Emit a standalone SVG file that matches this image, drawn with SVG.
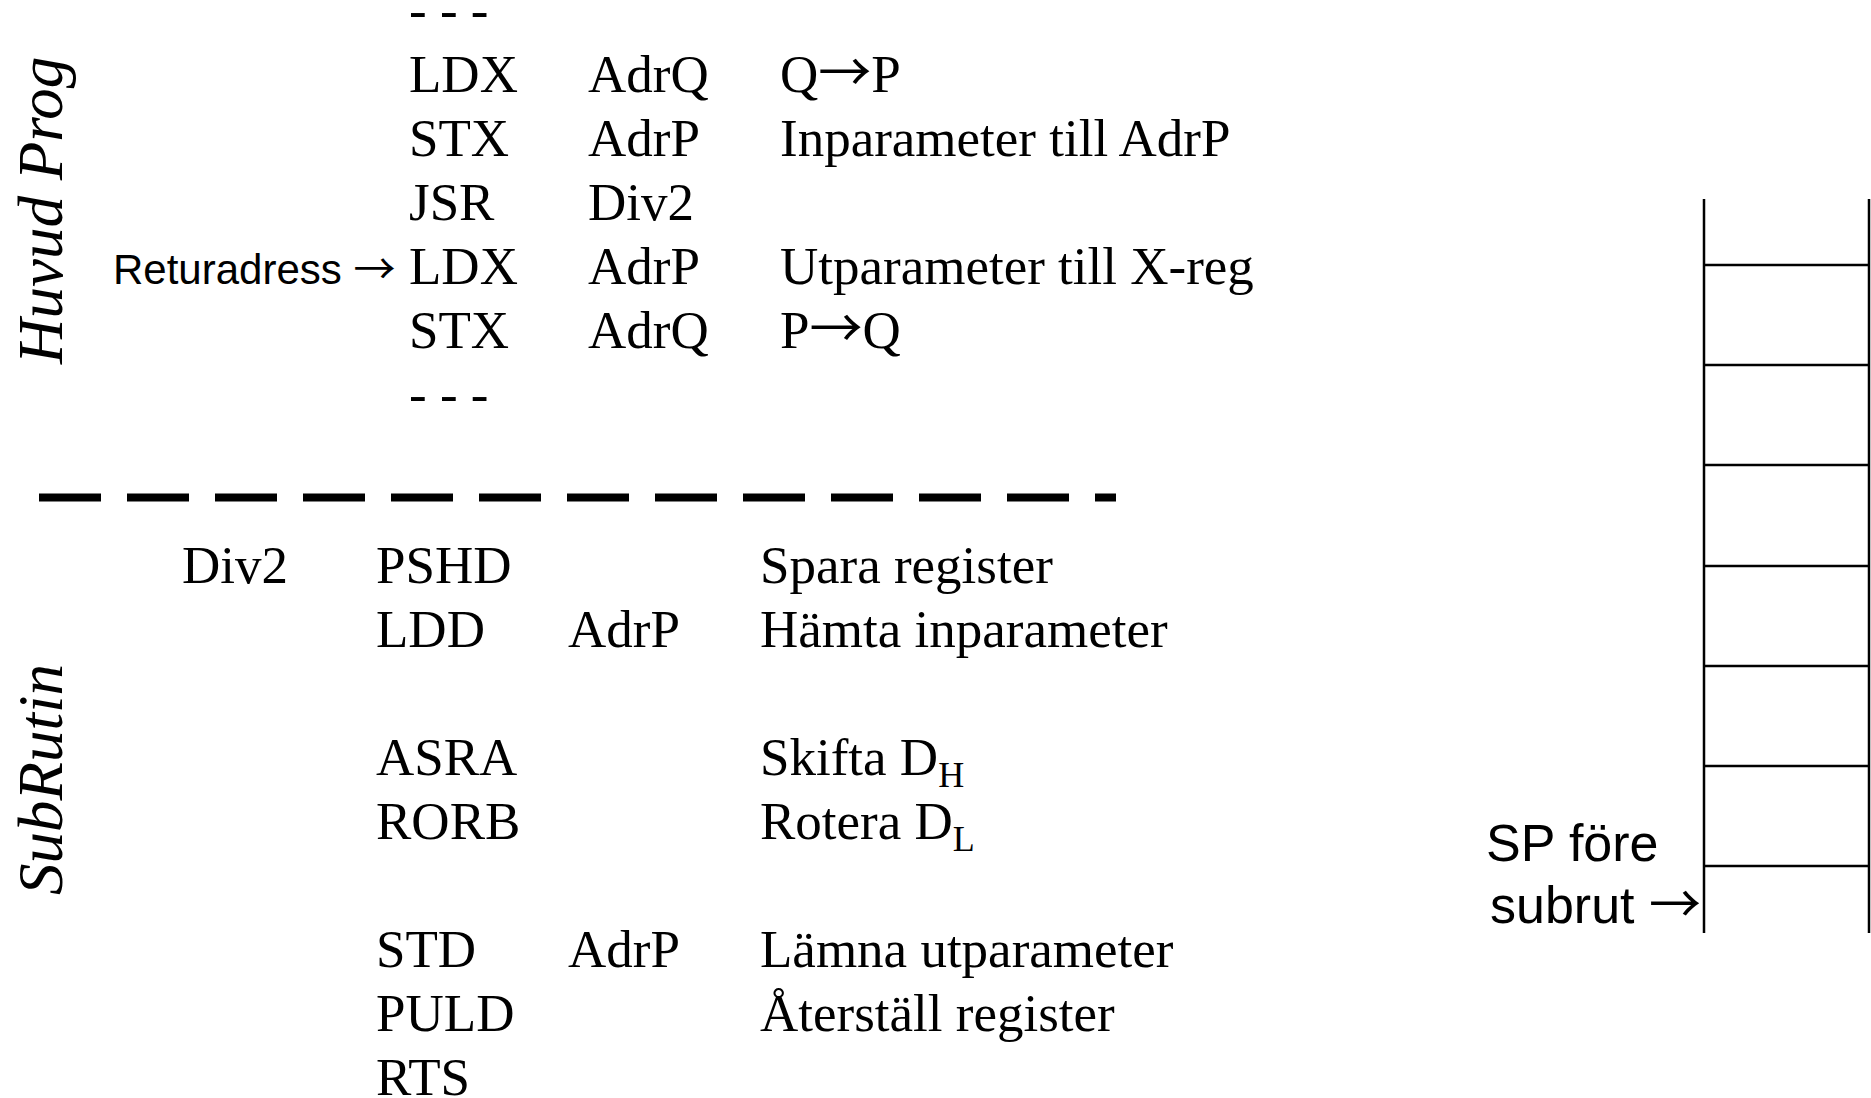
<svg xmlns="http://www.w3.org/2000/svg" width="1871" height="1098" viewBox="0 0 1871 1098">
<style>
.t{font-family:"Liberation Serif","Times New Roman",serif;font-size:53px;fill:#000}
.it{font-family:"Liberation Serif","Times New Roman",serif;font-style:italic;font-size:63px;fill:#000}
.s{font-family:"Liberation Sans",Arial,sans-serif;fill:#000}
.ar{font-family:"Noto Sans CJK JP","Noto Sans CJK SC",sans-serif}
.sub{font-size:36px}
.ln{stroke:#000;stroke-width:2.5;fill:none}
</style>
<rect width="1871" height="1098" fill="#fff"/>
<g id="label-huvud"><text class="it" transform="translate(62,364) rotate(-90)">Huvud Prog</text></g>
<g id="label-subrutin"><text class="it" transform="translate(62,895) rotate(-90)">SubRutin</text></g>
<g id="main-program">
<text class="t" x="409" y="28">- - -</text>
<text class="t" x="409" y="92">LDX</text><text class="t" x="588" y="92">AdrQ</text><text class="t" x="780" y="92">Q<tspan class="ar">→</tspan>P</text>
<text class="t" x="409" y="156">STX</text><text class="t" x="588" y="156">AdrP</text><text class="t" x="780" y="156">Inparameter till AdrP</text>
<text class="t" x="409" y="220">JSR</text><text class="t" x="588" y="220">Div2</text>
<text class="s" x="113" y="284" font-size="42">Returadress <tspan class="ar">→</tspan></text>
<text class="t" x="409" y="284">LDX</text><text class="t" x="588" y="284">AdrP</text><text class="t" x="780" y="284">Utparameter till X-reg</text>
<text class="t" x="409" y="348">STX</text><text class="t" x="588" y="348">AdrQ</text><text class="t" x="780" y="348">P<tspan class="ar">→</tspan>Q</text>
<text class="t" x="409" y="412">- - -</text>
</g>
<g id="separator"><line x1="39" y1="497.5" x2="1116" y2="497.5" stroke="#000" stroke-width="8" stroke-dasharray="62 26"/></g>
<g id="subroutine">
<text class="t" x="182" y="583">Div2</text>
<text class="t" x="376" y="583">PSHD</text><text class="t" x="760" y="583">Spara register</text>
<text class="t" x="376" y="647">LDD</text><text class="t" x="568" y="647">AdrP</text><text class="t" x="760" y="647">Hämta inparameter</text>
<text class="t" x="376" y="775">ASRA</text><text class="t" x="760" y="775">Skifta D<tspan class="sub" dy="12">H</tspan></text>
<text class="t" x="376" y="839">RORB</text><text class="t" x="760" y="839">Rotera D<tspan class="sub" dy="12">L</tspan></text>
<text class="t" x="376" y="967">STD</text><text class="t" x="568" y="967">AdrP</text><text class="t" x="760" y="967">Lämna utparameter</text>
<text class="t" x="376" y="1031">PULD</text><text class="t" x="760" y="1031">Återställ register</text>
<text class="t" x="376" y="1095">RTS</text>
</g>
<g id="stack">
<line class="ln" x1="1704" y1="199" x2="1704" y2="933" stroke-width="3"/>
<line class="ln" x1="1869" y1="199" x2="1869" y2="933"/>
<line class="ln" x1="1704" y1="265" x2="1869" y2="265"/>
<line class="ln" x1="1704" y1="365" x2="1869" y2="365"/>
<line class="ln" x1="1704" y1="465" x2="1869" y2="465"/>
<line class="ln" x1="1704" y1="566" x2="1869" y2="566"/>
<line class="ln" x1="1704" y1="666" x2="1869" y2="666"/>
<line class="ln" x1="1704" y1="766" x2="1869" y2="766"/>
<line class="ln" x1="1704" y1="866" x2="1869" y2="866"/>
</g>
<g id="sp-label">
<text class="s" x="1486" y="861" font-size="52">SP före</text>
<text class="s" x="1490" y="923" font-size="52">subrut <tspan class="ar">→</tspan></text>
</g>
</svg>
